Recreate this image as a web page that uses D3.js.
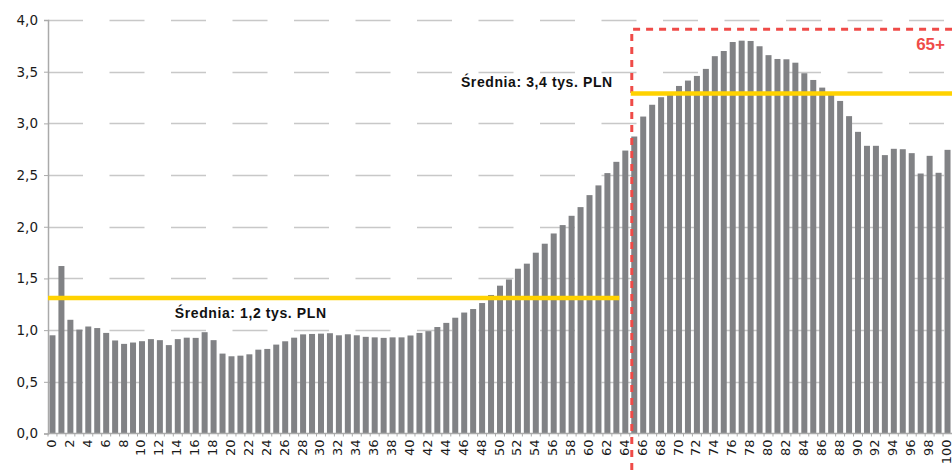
<!DOCTYPE html>
<html lang="pl">
<head>
<meta charset="utf-8">
<title>Średnia wg wieku</title>
<script src="https://cdn.jsdelivr.net/npm/d3@7"></script>
<style>
  html, body { margin: 0; padding: 0; background: #fff; }
  svg { display: block; }
</style>
</head>
<body>
<svg id="chart"></svg>
<script>
'use strict';

// ── Data ──────────────────────────────────────────────────────────────────
const ages = d3.range(0, 101);              // 0 … 100
const values = [
  0.95, 1.62, 1.10, 1.005, 1.035, 1.02, 0.973, 0.90, 0.867, 0.88,
  0.893, 0.913, 0.903, 0.855, 0.913, 0.927, 0.925, 0.98, 0.903, 0.773,
  0.747, 0.753, 0.766, 0.811, 0.818, 0.86, 0.892, 0.927, 0.959, 0.963,
  0.966, 0.97, 0.95, 0.96, 0.95, 0.935, 0.93, 0.925, 0.93, 0.93,
  0.948, 0.973, 0.99, 1.03, 1.07, 1.12, 1.17, 1.204, 1.262, 1.34,
  1.43, 1.49, 1.594, 1.643, 1.749, 1.836, 1.935, 2.016, 2.106, 2.19,
  2.306, 2.40, 2.519, 2.628, 2.737, 2.873, 3.066, 3.18, 3.253, 3.30,
  3.362, 3.414, 3.459, 3.527, 3.65, 3.70, 3.787, 3.80, 3.797, 3.746,
  3.66, 3.623, 3.62, 3.587, 3.485, 3.42, 3.346, 3.29, 3.217, 3.07,
  2.918, 2.783, 2.783, 2.693, 2.754, 2.75, 2.712, 2.515, 2.686, 2.522,
  2.744
];
const yTicks    = [0, 0.5, 1, 1.5, 2, 2.5, 3, 3.5, 4];
const xLabels   = ages.filter(a => a % 2 === 0);

// average lines: [from age, to age, level, label]
const averages = [
  { from: 0,  to: 63,  level: 1.31, label: 'Średnia: 1,2 tys. PLN' },
  { from: 65, to: 100, level: 3.29, label: 'Średnia: 3,4 tys. PLN' }
];
const seniorStart = 65;
const seniorLabel = '65+';

(function () {
  const W = 952, H = 473;
  const M = { top: 20, right: 0, bottom: 39.5, left: 48 };

  const svg = d3.select('#chart').attr('width', W).attr('height', H);
  const fmt = d3.format('.1f');
  const comma = v => fmt(v).replace('.', ',');

  // ── Scales ──────────────────────────────────────────────────────────────
  const x = d3.scaleBand()
    .domain(ages)
    .range([M.left, W - M.right])
    .paddingInner(0.33)
    .paddingOuter(0.165);

  const y = d3.scaleLinear()
    .domain([0, 4])
    .range([H - M.bottom, M.top]);

  const step = x.step();
  const bandLeft = a => x(a) - step * 0.165;   // band boundary before bar

  // ── Grid (dashed) ───────────────────────────────────────────────────────
  svg.append('g')
    .selectAll('line')
    .data(yTicks.filter(t => t > 0))
    .join('line')
      .attr('x1', M.left).attr('x2', W)
      .attr('y1', d => Math.round(y(d)) + 0.5).attr('y2', d => Math.round(y(d)) + 0.5)
      .attr('stroke', '#c8c8c8')
      .attr('stroke-width', 1.4)
      .attr('stroke-dasharray', '35,26.5');

  // ── Bars ────────────────────────────────────────────────────────────────
  svg.append('g')
    .selectAll('rect')
    .data(values)
    .join('rect')
      .attr('x', (d, i) => x(ages[i]))
      .attr('width', x.bandwidth())
      .attr('y', d => y(d))
      .attr('height', d => y(0) - y(d))
      .attr('fill', '#818285');

  // ── Axes ────────────────────────────────────────────────────────────────
  const yAxis = d3.axisLeft(y)
    .tickValues(yTicks)
    .tickSize(4)
    .tickPadding(6)
    .tickFormat(comma);

  svg.append('g')
    .attr('transform', `translate(${M.left},0)`)
    .call(yAxis)
    .call(ax => ax.select('.domain').attr('stroke', '#aaaaaa').attr('stroke-width', 1.5))
    .call(ax => ax.selectAll('.tick line').attr('stroke', '#aaaaaa'))
    .call(ax => ax.selectAll('text')
      .attr('font-family', '"DejaVu Sans", sans-serif')
      .attr('font-size', '13.5px')
      .attr('fill', '#1a1a1a'));

  const xg = svg.append('g').attr('transform', `translate(0,${y(0)})`);

  xg.append('line')
    .attr('x1', M.left).attr('x2', W)
    .attr('stroke', '#aaaaaa').attr('stroke-width', 1.5);

  xg.selectAll('.xtick')
    .data(ages)
    .join('line')
      .attr('class', 'xtick')
      .attr('x1', d => bandLeft(d)).attr('x2', d => bandLeft(d))
      .attr('y1', 0).attr('y2', 3)
      .attr('stroke', '#aaaaaa');

  xg.selectAll('text')
    .data(xLabels)
    .join('text')
      .attr('transform', d => `translate(${x(d) + x.bandwidth() / 2 + 3.5},6) rotate(-90)`)
      .attr('text-anchor', 'end')
      .attr('font-family', '"DejaVu Sans", sans-serif')
      .attr('font-size', '13px')
      .attr('fill', '#1a1a1a')
      .text(d => d);

  // ── 65+ frame ───────────────────────────────────────────────────────────
  const fx = bandLeft(seniorStart) + 2;
  const fy = y(3.91);
  const red = '#ef4b48';

  svg.append('path')
    .attr('d', `M${fx},${H + 10} V${fy} H${W + 10}`)
    .attr('fill', 'none')
    .attr('stroke', red)
    .attr('stroke-width', 3)
    .attr('stroke-dasharray', '7,6');

  svg.append('text')
    .attr('x', W - 7).attr('y', fy + 21)
    .attr('text-anchor', 'end')
    .attr('font-family', '"Liberation Sans", Arial, sans-serif')
    .attr('font-weight', 'bold')
    .attr('font-size', '17px')
    .attr('fill', red)
    .text(seniorLabel);

  // ── Average lines ───────────────────────────────────────────────────────
  const yellow = '#ffd200';
  const [young, old] = averages;

  svg.append('line')
    .attr('x1', M.left).attr('x2', x(young.to) + x.bandwidth())
    .attr('y1', y(young.level)).attr('y2', y(young.level))
    .attr('stroke', yellow).attr('stroke-width', 4.5);

  svg.append('line')
    .attr('x1', fx - 1).attr('x2', W)
    .attr('y1', y(old.level)).attr('y2', y(old.level))
    .attr('stroke', yellow).attr('stroke-width', 4.5);

  const labelStyle = sel => sel
    .attr('font-family', '"Liberation Sans", Arial, sans-serif')
    .attr('font-weight', 'bold')
    .attr('font-size', '14px')
    .attr('letter-spacing', '0.6px')
    .attr('fill', '#111');

  svg.append('text')
    .attr('x', x(14)).attr('y', y(young.level) + 20)
    .call(labelStyle)
    .text(young.label);

  svg.append('text')
    .attr('x', fx - 19).attr('y', y(old.level) - 6.5)
    .attr('text-anchor', 'end')
    .call(labelStyle)
    .text(old.label);
})();
</script>
</body>
</html>
